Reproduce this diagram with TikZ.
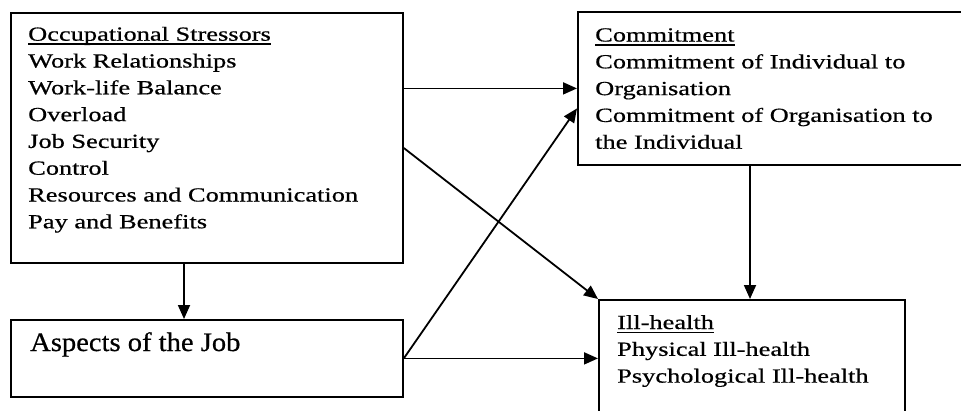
\documentclass[tikz,border=0pt]{standalone}
\usepackage{fontspec}
\setmainfont{Liberation Serif}
\newfontfamily\bodyfont{Liberation Serif}[FakeStretch=1.32,FakeBold=0.6]
\newfontfamily\aspfont{Liberation Serif}[FakeStretch=1.07,FakeBold=0.6]
\usetikzlibrary{arrows.meta,calc}
\newcommand{\ulx}[1]{\setbox0\hbox{#1}\rlap{\vrule width \wd0 height -2.6pt depth 4pt}\box0}
\newcommand{\linestack}[1]{\vtop{\baselineskip=26.8pt\lineskiplimit=-30pt\lineskip=0pt #1}}
\tikzset{
  box/.style={draw, line width=1.8pt, inner sep=0pt, anchor=north west},
  txt/.style={anchor=base west, inner sep=0pt, font=\bodyfont\fontsize{20pt}{26.8pt}\selectfont},
  asptxt/.style={anchor=base west, inner sep=0pt, font=\aspfont\fontsize{26.7pt}{30pt}\selectfont},
  arr/.style={line width=1.8pt, -{Triangle[length=14pt,width=12pt]}},
}
\begin{document}
\begin{tikzpicture}[x=1pt,y=-1pt]
\useasboundingbox (0,0) rectangle (961,410);
% boxes
\node[box, minimum width=392pt, minimum height=250pt] (stress) at (10,12) {};
\node[box, minimum width=398pt, minimum height=153pt] (commit) at (577,11) {};
\node[box, minimum width=392pt, minimum height=77pt] (asp) at (10,319) {};
\node[box, minimum width=306pt, minimum height=116pt] (ill) at (598,299) {};
% texts
\node[txt] (stresstxt) at (28,40.7) {\linestack{%
  \hbox{\ulx{Occupational Stressors}}
  \hbox{Work Relationships}
  \hbox{Work-life Balance}
  \hbox{Overload}
  \hbox{Job Security}
  \hbox{Control}
  \hbox{Resources and Communication}
  \hbox{Pay and Benefits}}};
\node[txt] (committxt) at (595,41.5) {\linestack{%
  \hbox{\ulx{Commitment}}
  \hbox{Commitment of Individual to}
  \hbox{Organisation}
  \hbox{Commitment of Organisation to}
  \hbox{the Individual}}};
\node[txt] (illtxt) at (617,329) {\linestack{%
  \hbox{\ulx{Ill-health}}
  \hbox{Physical Ill-health}
  \hbox{Psychological Ill-health}}};
\node[asptxt] (asptext) at (30,351) {Aspects of the Job};
% connectors
\draw[arr] (stress.east |- commit.west) -- (commit.west);
\draw[arr] ($(stress.north east)+(0,136)$) -- (ill.north west);
\draw[arr] ($(stress.south west)+(174,0)$) -- ($(asp.north west)+(174,0)$);
\draw[arr] (asp.east) -- ($(commit.west)+(0,20)$);
\draw[arr] (asp.east) -- (ill.west |- asp.east);
\draw[arr] ($(commit.south west)+(173,0)$) -- ($(ill.north west)+(152,0)$);
\end{tikzpicture}
\end{document}
